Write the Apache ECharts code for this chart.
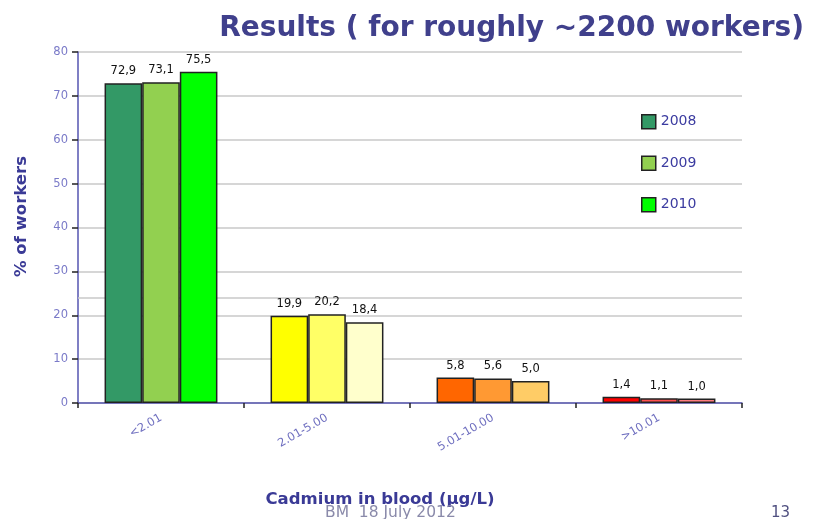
<!DOCTYPE html>
<html>
<head>
<meta charset="utf-8">
<script src="https://cdn.jsdelivr.net/npm/echarts@6/dist/echarts.min.js"></script>
<style>
  html, body { margin: 0; padding: 0; background: #fff; }
  #chart { width: 823px; height: 519px; }
</style>
</head>
<body>
<div id="chart"></div>
<script>
// categories (cadmium in blood, µg/L)
const categories = ["<2.01", "2.01-5.00", "5.01-10.00", ">10.01"];
const years = ["2008", "2009", "2010"];

// % of workers per year
const values2008 = [72.9, 19.9, 5.8, 1.4];
const values2009 = [73.1, 20.2, 5.6, 1.1];
const values2010 = [75.5, 18.4, 5.0, 1.0];

// each category has its own colour family, one shade per year
const colors2008 = ["#339966", "#ffff00", "#ff6600", "#ff0000"];
const colors2009 = ["#92d050", "#ffff66", "#ff9933", "#ff5050"];
const colors2010 = ["#00ff00", "#ffffcc", "#ffcc66", "#ff7c80"];

// stray line drawn on the slide instead of the 20 gridline
const extraLineValue = 24;

const chart = echarts.init(document.getElementById("chart"));

function makeSeries(name, values, colors) {
  return {
    name: name,
    type: "bar",
    z: 3,
    barGap: "0%",
    barCategoryGap: "32%",
    itemStyle: { color: colors[0], borderColor: "#222", borderWidth: 1.5 },
    label: {
      show: true,
      position: "top",
      distance: 6,
      color: "#111",
      fontSize: 11.5,
      fontFamily: "DejaVu Sans",
      formatter: (p) => p.value.toFixed(1).replace(".", ","),
    },
    data: values.map((v, i) => ({ value: v, itemStyle: { color: colors[i] } })),
  };
}

const series = [
  makeSeries(years[0], values2008, colors2008),
  makeSeries(years[1], values2009, colors2009),
  makeSeries(years[2], values2010, colors2010),
];

// the extra line, kept behind the bars
series[0].markLine = {
  silent: true,
  z: 1,
  symbol: "none",
  label: { show: false },
  lineStyle: { color: "#c8c8c8", type: "solid", width: 1.5 },
  data: [{ yAxis: extraLineValue }],
};

const option = {
  animation: false,
  backgroundColor: "#fff",
  title: [
    {
      text: "Results ( for roughly ~2200 workers)",
      right: 14,
      top: 10,
      textStyle: {
        fontFamily: "DejaVu Sans",
        fontWeight: "bold",
        fontSize: 28,
        color: "#40408c",
      },
    },
    {
      text: "BM  18 July 2012",
      left: 320,
      top: 500,
      textStyle: { fontFamily: "DejaVu Sans", fontWeight: "normal", fontSize: 15.5, color: "#8a8aaa" },
    },
    {
      text: "13",
      left: 766,
      top: 501,
      textStyle: { fontFamily: "DejaVu Sans", fontWeight: "normal", fontSize: 15, color: "#505080" },
    },
  ],
  legend: {
    orient: "vertical",
    left: 636,
    top: 109,
    itemWidth: 14,
    itemHeight: 14,
    itemGap: 26,
    icon: "rect",
    itemStyle: { borderColor: "#222", borderWidth: 1.5 },
    textStyle: { fontFamily: "DejaVu Sans", fontSize: 14, color: "#3b3ba0" },
    data: years,
  },
  grid: { left: 78, right: 81, top: 52, bottom: 116 },
  xAxis: {
    type: "category",
    data: categories,
    name: "Cadmium in blood (µg/L)",
    nameLocation: "middle",
    nameGap: 88,
    nameTextStyle: {
      fontFamily: "DejaVu Sans",
      fontWeight: "bold",
      fontSize: 16.5,
      color: "#3a3a96",
      padding: [0, 60, 0, 0],
    },
    axisLine: { lineStyle: { color: "#5555b0", width: 1.5 } },
    axisTick: { show: true, length: 5, lineStyle: { color: "#222", width: 1.5 } },
    axisLabel: {
      rotate: 30,
      margin: 14,
      fontFamily: "DejaVu Sans",
      fontSize: 11.5,
      color: "#7070c0",
    },
  },
  yAxis: {
    type: "value",
    min: 0,
    max: 80,
    interval: 10,
    name: "% of workers",
    nameLocation: "middle",
    nameGap: 48,
    nameTextStyle: {
      fontFamily: "DejaVu Sans",
      fontWeight: "bold",
      fontSize: 16.5,
      color: "#3a3a96",
      padding: [0, 0, 0, 22],
    },
    axisLine: { show: true, lineStyle: { color: "#5555b0", width: 1.5 } },
    axisTick: { show: true, length: 6, lineStyle: { color: "#222", width: 1.5 } },
    axisLabel: { fontFamily: "DejaVu Sans", fontSize: 11.5, color: "#7a7ac8", margin: 10 },
    splitLine: {
      show: true,
      lineStyle: { color: "#c8c8c8", width: 1.5 },
      interval: (idx, value) => value !== 20 && value !== 80,
    },
  },
  series: series,
};

chart.setOption(option);
</script>
</body>
</html>
